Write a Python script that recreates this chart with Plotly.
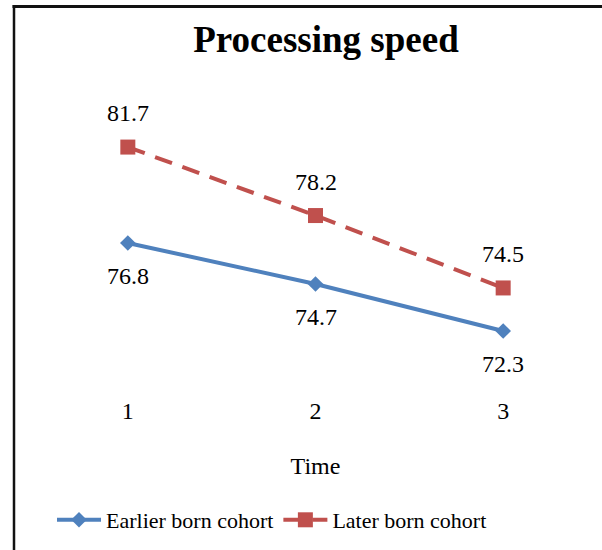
import plotly.graph_objects as go

times = [1, 2, 3]
tick_labels = ["1", "2", "3"]
earlier = [76.8, 74.7, 72.3]
later = [81.7, 78.2, 74.5]

BLUE = "#4F81BD"
RED = "#C0504D"
FONT = "Liberation Serif, Times New Roman, serif"

W, H = 602, 550
L, R, T, B = 34, 5, 60, 156
PW, PH = W - L - R, H - T - B

def px_x(p):
    return (p - L) / PW

def px_y(p):
    return (H - B - p) / PH

fig = go.Figure()
fig.add_trace(go.Scatter(
    x=times, y=earlier, name="Earlier born cohort", mode="lines+markers",
    line=dict(color=BLUE, width=4),
    marker=dict(symbol="diamond", size=12, color=BLUE),
))
fig.add_trace(go.Scatter(
    x=times, y=later, name="Later born cohort", mode="lines+markers",
    line=dict(color=RED, width=4, dash="18px,11px"),
    marker=dict(symbol="square", size=15, color=RED),
))

annotations = []
for xv, yv in zip(times, earlier):
    annotations.append(dict(x=xv, y=yv, text=f"{yv:.1f}", showarrow=False,
                            yshift=-33, font=dict(family=FONT, size=24, color="black")))
for xv, yv in zip(times, later):
    annotations.append(dict(x=xv, y=yv, text=f"{yv:.1f}", showarrow=False,
                            yshift=34, font=dict(family=FONT, size=24, color="black")))

fig.update_layout(
    width=W, height=H,
    margin=dict(l=L, r=R, t=T, b=B),
    paper_bgcolor="white", plot_bgcolor="white",
    font=dict(family=FONT, size=23, color="black"),
    title=dict(text="<b>Processing speed</b>", font=dict(family=FONT, size=37, color="black"),
               x=326 / W, xanchor="center", xref="container",
               y=1 - 39 / H, yanchor="middle", yref="container"),
    xaxis=dict(range=[0.5, 3.5], tickvals=times, ticktext=tick_labels,
               showgrid=False, zeroline=False, showline=False, ticks="",
               tickfont=dict(family=FONT, size=24),
               title=dict(text="Time", font=dict(family=FONT, size=24), standoff=34)),
    yaxis=dict(range=[69.08, 86.15], visible=False, showgrid=False, zeroline=False),
    showlegend=True,
    legend=dict(orientation="h", x=px_x(52), xanchor="left", y=px_y(520), yanchor="middle",
                font=dict(family=FONT, size=22), itemwidth=44, tracegroupgap=0,
                bgcolor="rgba(0,0,0,0)"),
    annotations=annotations,
    shapes=[
        dict(type="line", xref="paper", yref="paper", x0=px_x(12.5), x1=px_x(605),
             y0=px_y(6.5), y1=px_y(6.5), line=dict(color="#111111", width=3)),
        dict(type="line", xref="paper", yref="paper", x0=px_x(14), x1=px_x(14),
             y0=px_y(5), y1=px_y(555), line=dict(color="#111111", width=2.5)),
    ],
)

fig.write_html("out.html")
